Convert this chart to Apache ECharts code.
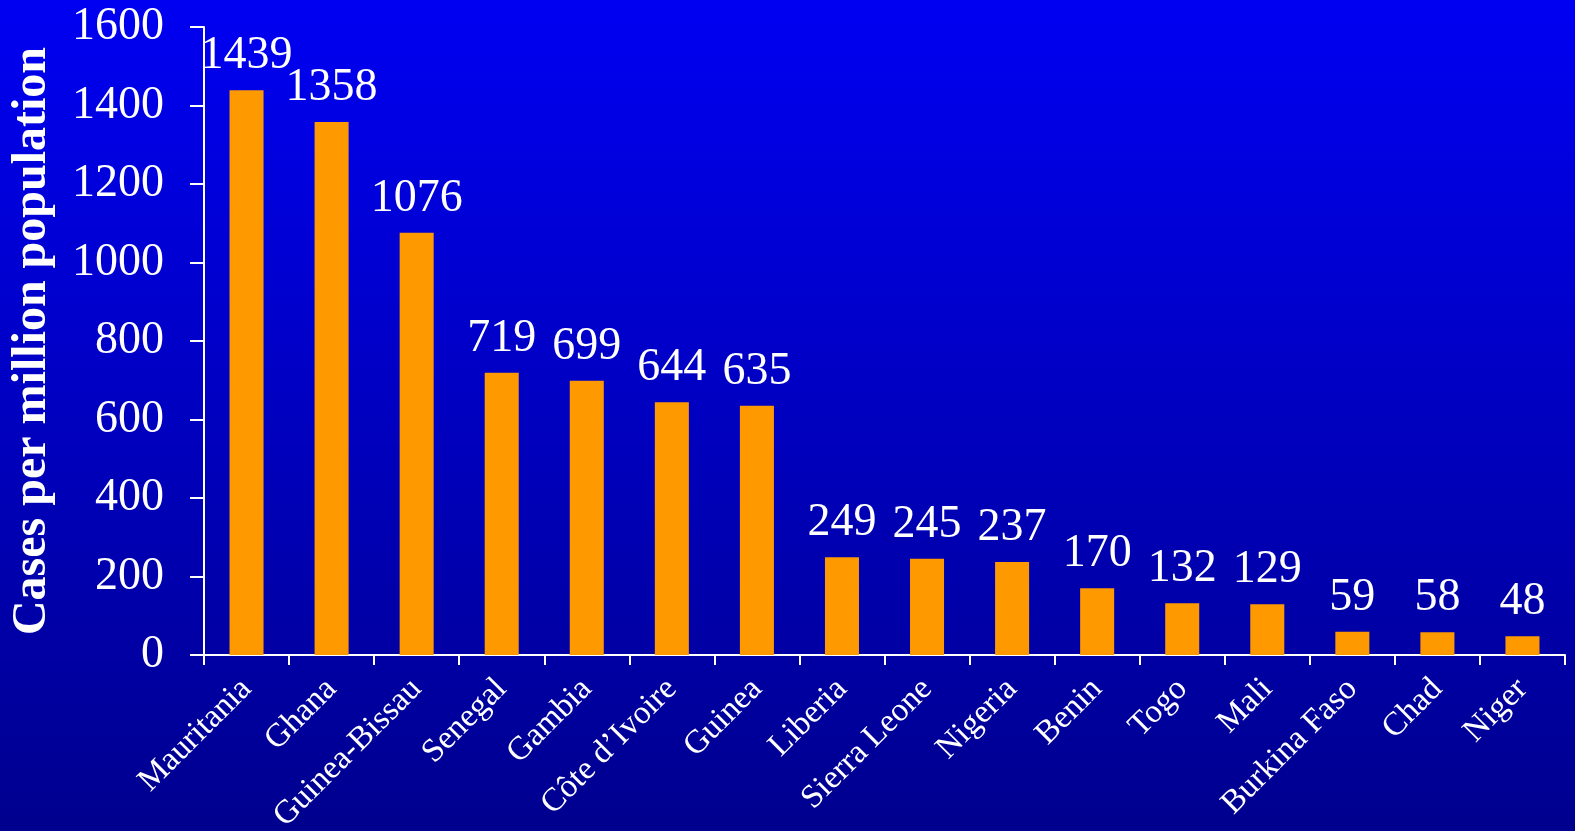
<!DOCTYPE html>
<html>
<head>
<meta charset="utf-8">
<script src="https://cdn.jsdelivr.net/npm/echarts@6/dist/echarts.min.js"></script>
<style>
html,body{margin:0;padding:0;width:1575px;height:831px;overflow:hidden;}
#chart{width:1575px;height:831px;}
</style>
</head>
<body>
<div id="chart"></div>
<script>
// Reported cases per million population, by country
const countries = ['Mauritania','Ghana','Guinea-Bissau','Senegal','Gambia','Côte d\u2019Ivoire','Guinea','Liberia','Sierra Leone','Nigeria','Benin','Togo','Mali','Burkina Faso','Chad','Niger'];
const casesPerMillion = [1439,1358,1076,719,699,644,635,249,245,237,170,132,129,59,58,48];
const yTicks = { min: 0, max: 1600, interval: 200 };

const chart = echarts.init(document.getElementById('chart'));
const serif = '"Liberation Serif", "Times New Roman", serif';

chart.setOption({
  backgroundColor: {
    type: 'linear', x: 0, y: 0, x2: 0, y2: 1,
    colorStops: [
      { offset: 0, color: '#0000f2' },
      { offset: 1, color: '#00008e' }
    ]
  },
  animation: false,
  grid: { left: 204, right: 10, top: 27, bottom: 176, containLabel: false, outerBoundsMode: 'none' },
  xAxis: {
    type: 'category',
    data: countries,
    axisLine: { lineStyle: { color: '#ffffff', width: 2 } },
    axisTick: { show: true, length: 10, lineStyle: { color: '#ffffff', width: 2 } },
    axisLabel: {
      rotate: 45, interval: 0, margin: 29,
      color: '#ffffff', fontFamily: serif, fontSize: 33,
      padding: [16, 0, 0, 0]
    }
  },
  yAxis: {
    type: 'value',
    min: yTicks.min, max: yTicks.max, interval: yTicks.interval,
    name: 'Cases per million population',
    nameLocation: 'middle',
    nameGap: 147,
    nameTextStyle: { color: '#ffffff', fontFamily: serif, fontSize: 48, fontWeight: 'bold' },
    axisLine: { show: true, lineStyle: { color: '#ffffff', width: 2 } },
    axisTick: { show: true, length: 14, lineStyle: { color: '#ffffff', width: 2 } },
    splitLine: { show: false },
    axisLabel: {
      color: '#ffffff', fontFamily: serif, fontSize: 46, margin: 40,
      formatter: v => String(v)
    }
  },
  series: [{
    type: 'bar',
    data: casesPerMillion,
    barWidth: '40%',
    itemStyle: { color: '#ff9900' },
    label: {
      show: true, position: 'top', distance: 11,
      color: '#ffffff', fontFamily: serif, fontSize: 46
    }
  }]
});
</script>
</body>
</html>
